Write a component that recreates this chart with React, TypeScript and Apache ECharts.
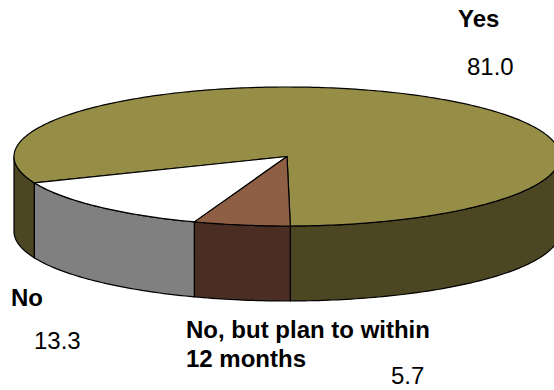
import React, { useEffect, useRef } from "react";
import * as echarts from "echarts";

const categories = ["Yes", "No", "No, but plan to within\n12 months"];
const shares = [81.0, 13.3, 5.7];
const topColors = ["#968E46", "#FFFFFF", "#8F5F45"];
const sideColors = ["#4C4623", "#808080", "#4A2E23"];

// Tilted disc geometry, in pixels
const CX = 287;
const CY = 156.5;
const RX = 273;
const RY = 69.5;
const DEPTH = 75;
const FIRST_ANGLE = 89.3; // degrees clockwise from +x on screen; slices run counter-clockwise
const total = shares.reduce((a, b) => a + b, 0);

const rim = (deg: number, drop = 0): number[] => {
  const r = (deg * Math.PI) / 180;
  return [CX + RX * Math.cos(r), CY + RY * Math.sin(r) + drop];
};

const arc = (from: number, to: number, drop = 0): number[][] => {
  const steps = Math.max(2, Math.ceil(Math.abs(to - from)));
  const pts: number[][] = [];
  for (let i = 0; i <= steps; i++) pts.push(rim(from + ((to - from) * i) / steps, drop));
  return pts;
};

// Portions of [lo, hi] that lie on the near half of the disc (0..180 modulo 360)
const nearRanges = (lo: number, hi: number): number[][] => {
  const out: number[][] = [];
  for (let k = -2; k <= 1; k++) {
    const a = Math.max(lo, k * 360);
    const b = Math.min(hi, k * 360 + 180);
    if (b > a) out.push([a, b]);
  }
  return out;
};

const renderSlice = (params: any, api: any) => {
  const i = params.dataIndex;
  const before = shares.slice(0, i).reduce((a, b) => a + b, 0);
  const hi = FIRST_ANGLE - (before / total) * 360;
  const lo = hi - (api.value(0) / total) * 360;
  const line = { stroke: "#000000", lineWidth: 1.2, lineJoin: "round" };
  const walls = nearRanges(lo, hi).map(([a, b]) => ({
    type: "polygon",
    shape: { points: [...arc(a, b), ...arc(b, a, DEPTH)] },
    style: { fill: sideColors[i], ...line },
  }));
  return {
    type: "group",
    children: [
      ...walls,
      {
        type: "polygon",
        shape: { points: [[CX, CY], ...arc(lo, hi)] },
        style: { fill: topColors[i], ...line },
      },
    ],
  };
};

const FONT = "'Liberation Sans', Arial, sans-serif";
const caption = (text: string, x: number, y: number, bold: boolean, lineHeight = 29) => ({
  type: "text",
  x,
  y,
  style: {
    text,
    fill: "#000000",
    font: `${bold ? "bold " : ""}24px ${FONT}`,
    lineHeight,
    textVerticalAlign: "top",
  },
});

export default function App() {
  const ref = useRef<HTMLDivElement>(null);

  useEffect(() => {
    const chart = echarts.init(ref.current!, null, { renderer: "svg" });
    chart.setOption({
      animation: false,
      backgroundColor: "#FFFFFF",
      series: [
        {
          type: "custom",
          coordinateSystem: "none",
          silent: true,
          clip: false,
          data: shares.map((v) => [v]),
          renderItem: renderSlice,
        },
      ],
      graphic: [
        caption(categories[0], 458, 4, true),
        caption(shares[0].toFixed(1), 467, 52, false),
        caption(categories[1], 11, 283, true),
        caption(shares[1].toFixed(1), 34, 326, false),
        caption(categories[2], 186, 315, true),
        // Sits just above the bottom edge so the whole value stays on the page
        caption(shares[2].toFixed(1), 391, 365, false, 21),
      ],
    });
    return () => chart.dispose();
  }, []);

  return (
    <div
      ref={ref}
      style={{ position: "fixed", left: 0, top: 0, width: 554, height: 390 }}
    />
  );
}
